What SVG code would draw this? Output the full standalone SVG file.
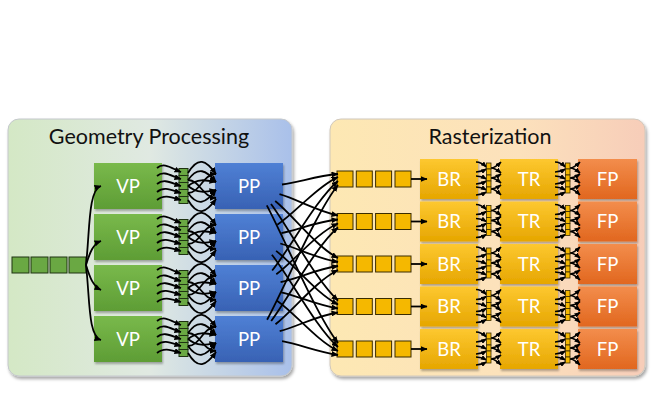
<svg xmlns="http://www.w3.org/2000/svg" xmlns:xlink="http://www.w3.org/1999/xlink" width="651" height="413" viewBox="0 0 651 413">
<defs>
<style>
.t{font-family:Lato,'Liberation Sans',sans-serif}
.title{font-size:21.5px;fill:#111}
.lbl{font-size:18.5px;fill:#fff}
.c{fill:none;stroke:#000;stroke-width:1.8;marker-end:url(#ah)}
.cm{fill:none;stroke:#000;stroke-width:1.7;marker-end:url(#ahs)}
.qg{fill:#6aa843;stroke:#1f3312;stroke-width:1}
.qy{fill:#f5b800;stroke:#3a2c00;stroke-width:1}
.qys{fill:#f5b800;stroke:#3a2c00;stroke-width:0.8}
</style>
<linearGradient id="gL" x1="0" y1="0" x2="1" y2="0">
<stop offset="0" stop-color="#d4e8c5"/><stop offset="0.5" stop-color="#e0e9e2"/><stop offset="1" stop-color="#a9c0ea"/>
</linearGradient>
<linearGradient id="gR" x1="0" y1="0" x2="1" y2="0">
<stop offset="0" stop-color="#fde8b3"/><stop offset="0.6" stop-color="#fce1bc"/><stop offset="1" stop-color="#f7cdb9"/>
</linearGradient>
<linearGradient id="gVP" x1="0" y1="0" x2="0" y2="1"><stop offset="0" stop-color="#79b94b"/><stop offset="1" stop-color="#5e9d35"/></linearGradient>
<linearGradient id="gPP" x1="0" y1="0" x2="0" y2="1"><stop offset="0" stop-color="#4f80d5"/><stop offset="1" stop-color="#3862b4"/></linearGradient>
<linearGradient id="gBR" x1="0" y1="0" x2="0" y2="1"><stop offset="0" stop-color="#fdc830"/><stop offset="1" stop-color="#e6a600"/></linearGradient>
<linearGradient id="gFP" x1="0" y1="0" x2="0" y2="1"><stop offset="0" stop-color="#f38d4c"/><stop offset="1" stop-color="#e1671f"/></linearGradient>
<filter id="sh" x="-10%" y="-10%" width="120%" height="125%"><feDropShadow dx="1.5" dy="2.5" stdDeviation="1.8" flood-color="#000" flood-opacity="0.35"/></filter>
<filter id="shb" x="-10%" y="-10%" width="125%" height="130%"><feDropShadow dx="1" dy="2" stdDeviation="1.2" flood-color="#000" flood-opacity="0.3"/></filter>
<marker id="ah" markerWidth="7" markerHeight="6" refX="6.5" refY="3" orient="auto" markerUnits="userSpaceOnUse"><path d="M0,0 L7,3 L0,6 z" fill="#000"/></marker>
<marker id="ahs" markerWidth="6" markerHeight="5" refX="5.5" refY="2.5" orient="auto" markerUnits="userSpaceOnUse"><path d="M0,0 L6,2.5 L0,5 z" fill="#000"/></marker>
<g id="vpq">
<rect class="qg" x="179" y="-17.5" width="9" height="7"/><rect class="qg" x="179" y="-10.5" width="9" height="7"/><rect class="qg" x="179" y="-3.5" width="9" height="7"/><rect class="qg" x="179" y="3.5" width="9" height="7"/><rect class="qg" x="179" y="10.5" width="9" height="7"/>
</g>
<g id="vpc">
<path class="c" d="M157 -18 C164 -24 171 -18 181 -14"/>
<path class="c" d="M157 -10 C164 -16 171 -10 181 -7"/>
<path class="c" d="M157 -2 C164 -8 171 -3 181 0"/>
<path class="c" d="M157 6 C164 0 171 4 181 7"/>
<path class="c" d="M157 14 C164 8 171 11 181 14"/>
<path class="c" d="M188 -13 C198 -30 206 -26 216 -12"/>
<path class="c" d="M188 14 C198 31 206 27 216 13"/>
<path class="c" d="M188 -6 C198 -20 206 -16 216 -4"/>
<path class="c" d="M188 7 C198 21 206 17 216 4"/>
<path class="c" d="M188 -6 C200 -6 203 12 216 12"/>
<path class="c" d="M188 7 C200 7 203 -12 216 -12"/>
<path class="c" d="M188 0 C198 -8 206 -6 216 -4"/>
<path class="c" d="M188 0 C198 8 206 6 216 4"/>
</g>
<g id="mq">
<rect class="qys" x="486.5" y="-16" width="4.5" height="6"/><rect class="qys" x="486.5" y="-10" width="4.5" height="6"/><rect class="qys" x="486.5" y="-4" width="4.5" height="6"/><rect class="qys" x="486.5" y="2" width="4.5" height="6"/><rect class="qys" x="486.5" y="8" width="4.5" height="6"/>
</g>
<g id="mc">
<path class="cm" d="M476 -17 Q481 -17 486.5 -12"/>
<path class="cm" d="M476 -7 Q481 -7 486.5 -10"/>
<path class="cm" d="M476 -3 Q481 -3 486.5 0"/>
<path class="cm" d="M476 5 Q481 5 486.5 2"/>
<path class="cm" d="M476 8 Q481 8 486.5 11"/>
<path class="cm" d="M476 16 Q481 16 486.5 13"/>
<path class="cm" d="M491 -11 Q495 -11 501 -17"/>
<path class="cm" d="M491 -11 Q495 -11 501 -6"/>
<path class="cm" d="M491 -1 Q495 -1 501 -5"/>
<path class="cm" d="M491 -1 Q495 -1 501 4"/>
<path class="cm" d="M491 10 Q495 10 501 6"/>
<path class="cm" d="M491 10 Q495 10 501 16"/>
</g>
</defs>
<rect width="651" height="413" fill="#fff"/>

<g id="panel-geometry">
<rect x="8" y="119" width="284" height="257" rx="11" fill="url(#gL)" stroke="#c4c8cc" stroke-width="1" filter="url(#sh)"/>
<text class="t title" x="149" y="144" text-anchor="middle">Geometry Processing</text>
</g>
<g id="panel-raster">
<rect x="330" y="119" width="315" height="257" rx="11" fill="url(#gR)" stroke="#d0c8bc" stroke-width="1" filter="url(#sh)"/>
<text class="t title" x="490" y="144" text-anchor="middle">Rasterization</text>
</g>

<g id="input-queue">
<rect class="qg" x="12" y="257" width="17" height="16"/><rect class="qg" x="31" y="257" width="17" height="16"/><rect class="qg" x="50" y="257" width="17" height="16"/><rect class="qg" x="69" y="257" width="17" height="16"/>
</g>

<g id="vp1"><rect x="94" y="163" width="68" height="46" fill="url(#gVP)" filter="url(#shb)"/><text class="t lbl" x="128" y="192.5" text-anchor="middle">VP</text></g>
<g id="vp2"><rect x="94" y="214" width="68" height="46" fill="url(#gVP)" filter="url(#shb)"/><text class="t lbl" x="128" y="243.5" text-anchor="middle">VP</text></g>
<g id="vp3"><rect x="94" y="265" width="68" height="46" fill="url(#gVP)" filter="url(#shb)"/><text class="t lbl" x="128" y="294.5" text-anchor="middle">VP</text></g>
<g id="vp4"><rect x="94" y="316" width="68" height="46" fill="url(#gVP)" filter="url(#shb)"/><text class="t lbl" x="128" y="345.5" text-anchor="middle">VP</text></g>

<g id="pp1"><rect x="215" y="163" width="68" height="46" fill="url(#gPP)" filter="url(#shb)"/><text class="t lbl" x="249" y="192.5" text-anchor="middle">PP</text></g>
<g id="pp2"><rect x="215" y="214" width="68" height="46" fill="url(#gPP)" filter="url(#shb)"/><text class="t lbl" x="249" y="243.5" text-anchor="middle">PP</text></g>
<g id="pp3"><rect x="215" y="265" width="68" height="46" fill="url(#gPP)" filter="url(#shb)"/><text class="t lbl" x="249" y="294.5" text-anchor="middle">PP</text></g>
<g id="pp4"><rect x="215" y="316" width="68" height="46" fill="url(#gPP)" filter="url(#shb)"/><text class="t lbl" x="249" y="345.5" text-anchor="middle">PP</text></g>

<g id="vp-queues">
<use xlink:href="#vpq" href="#vpq" transform="translate(0,186)"/>
<use xlink:href="#vpq" href="#vpq" transform="translate(0,237)"/>
<use xlink:href="#vpq" href="#vpq" transform="translate(0,288)"/>
<use xlink:href="#vpq" href="#vpq" transform="translate(0,339)"/>
</g>

<g id="raster-queues">
<g transform="translate(0,179)"><rect class="qy" x="337" y="-8" width="16" height="16"/><rect class="qy" x="356.3" y="-8" width="16" height="16"/><rect class="qy" x="375.6" y="-8" width="16" height="16"/><rect class="qy" x="395" y="-8" width="16" height="16"/></g>
<g transform="translate(0,221.5)"><rect class="qy" x="337" y="-8" width="16" height="16"/><rect class="qy" x="356.3" y="-8" width="16" height="16"/><rect class="qy" x="375.6" y="-8" width="16" height="16"/><rect class="qy" x="395" y="-8" width="16" height="16"/></g>
<g transform="translate(0,264)"><rect class="qy" x="337" y="-8" width="16" height="16"/><rect class="qy" x="356.3" y="-8" width="16" height="16"/><rect class="qy" x="375.6" y="-8" width="16" height="16"/><rect class="qy" x="395" y="-8" width="16" height="16"/></g>
<g transform="translate(0,306.5)"><rect class="qy" x="337" y="-8" width="16" height="16"/><rect class="qy" x="356.3" y="-8" width="16" height="16"/><rect class="qy" x="375.6" y="-8" width="16" height="16"/><rect class="qy" x="395" y="-8" width="16" height="16"/></g>
<g transform="translate(0,349)"><rect class="qy" x="337" y="-8" width="16" height="16"/><rect class="qy" x="356.3" y="-8" width="16" height="16"/><rect class="qy" x="375.6" y="-8" width="16" height="16"/><rect class="qy" x="395" y="-8" width="16" height="16"/></g>
</g>

<g id="br1"><rect x="420" y="159" width="58" height="40" fill="url(#gBR)" filter="url(#shb)"/><text class="t lbl" x="449" y="185.5" text-anchor="middle">BR</text></g>
<g id="br2"><rect x="420" y="201.5" width="58" height="40" fill="url(#gBR)" filter="url(#shb)"/><text class="t lbl" x="449" y="228" text-anchor="middle">BR</text></g>
<g id="br3"><rect x="420" y="244" width="58" height="40" fill="url(#gBR)" filter="url(#shb)"/><text class="t lbl" x="449" y="270.5" text-anchor="middle">BR</text></g>
<g id="br4"><rect x="420" y="286.5" width="58" height="40" fill="url(#gBR)" filter="url(#shb)"/><text class="t lbl" x="449" y="313" text-anchor="middle">BR</text></g>
<g id="br5"><rect x="420" y="329" width="58" height="40" fill="url(#gBR)" filter="url(#shb)"/><text class="t lbl" x="449" y="355.5" text-anchor="middle">BR</text></g>

<g id="tr1"><rect x="500" y="159" width="58" height="40" fill="url(#gBR)" filter="url(#shb)"/><text class="t lbl" x="529" y="185.5" text-anchor="middle">TR</text></g>
<g id="tr2"><rect x="500" y="201.5" width="58" height="40" fill="url(#gBR)" filter="url(#shb)"/><text class="t lbl" x="529" y="228" text-anchor="middle">TR</text></g>
<g id="tr3"><rect x="500" y="244" width="58" height="40" fill="url(#gBR)" filter="url(#shb)"/><text class="t lbl" x="529" y="270.5" text-anchor="middle">TR</text></g>
<g id="tr4"><rect x="500" y="286.5" width="58" height="40" fill="url(#gBR)" filter="url(#shb)"/><text class="t lbl" x="529" y="313" text-anchor="middle">TR</text></g>
<g id="tr5"><rect x="500" y="329" width="58" height="40" fill="url(#gBR)" filter="url(#shb)"/><text class="t lbl" x="529" y="355.5" text-anchor="middle">TR</text></g>

<g id="fp1"><rect x="578" y="159" width="59" height="40" fill="url(#gFP)" filter="url(#shb)"/><text class="t lbl" x="607.5" y="185.5" text-anchor="middle">FP</text></g>
<g id="fp2"><rect x="578" y="201.5" width="59" height="40" fill="url(#gFP)" filter="url(#shb)"/><text class="t lbl" x="607.5" y="228" text-anchor="middle">FP</text></g>
<g id="fp3"><rect x="578" y="244" width="59" height="40" fill="url(#gFP)" filter="url(#shb)"/><text class="t lbl" x="607.5" y="270.5" text-anchor="middle">FP</text></g>
<g id="fp4"><rect x="578" y="286.5" width="59" height="40" fill="url(#gFP)" filter="url(#shb)"/><text class="t lbl" x="607.5" y="313" text-anchor="middle">FP</text></g>
<g id="fp5"><rect x="578" y="329" width="59" height="40" fill="url(#gFP)" filter="url(#shb)"/><text class="t lbl" x="607.5" y="355.5" text-anchor="middle">FP</text></g>

<g id="connectors">
<path class="c" d="M86 265 C90 230 88 190 101 186"/>
<path class="c" d="M86 265 C90 252 93 244 101 241"/>
<path class="c" d="M86 265 C90 278 93 286 101 290"/>
<path class="c" d="M86 265 C90 300 88 336 101 340"/>
<use xlink:href="#vpc" href="#vpc" transform="translate(0,186)"/>
<use xlink:href="#vpc" href="#vpc" transform="translate(0,237)"/>
<use xlink:href="#vpc" href="#vpc" transform="translate(0,288)"/>
<use xlink:href="#vpc" href="#vpc" transform="translate(0,339)"/>
<path class="c" d="M282 184.5 C300 182 316 176 338 174"/>
<path class="c" d="M279.5 194.2 C297.5 199.4 316 210.8 338 215.5"/>
<path class="c" d="M275.2 201 C293 215.3 316 246.6 338 258"/>
<path class="c" d="M271 204 C289 228 316 280.8 338 300.5"/>
<path class="c" d="M266.8 205.3 C285 239.5 316 314.7 338 343"/>
<path class="c" d="M277.3 224.8 C295 213.1 316 187.4 338 177"/>
<path class="c" d="M281.4 233.1 C299 229.6 316 221.8 338 219.5"/>
<path class="c" d="M280.3 243.5 C298 248.1 316 258.3 338 262"/>
<path class="c" d="M276.1 250.9 C294 264.2 316 293.4 338 304.5"/>
<path class="c" d="M271.9 254.7 C290 277.5 316 327.7 338 347"/>
<path class="c" d="M272.2 270.5 C290 248.4 316 199.7 338 181"/>
<path class="c" d="M276.3 274.3 C294 261.5 316 233.3 338 223.5"/>
<path class="c" d="M280.6 282.2 C299 278.2 316 269.2 338 266"/>
<path class="c" d="M281.2 292.4 C299 296.3 316 304.9 338 308.5"/>
<path class="c" d="M277 300.7 C295 313 316 340.1 338 351"/>
<path class="c" d="M267.1 319.7 C285 286.3 316 212.7 338 185"/>
<path class="c" d="M271.2 321 C289 297.5 316 245.8 338 227.5"/>
<path class="c" d="M275.5 324.3 C293 310.7 316 280.9 338 270"/>
<path class="c" d="M279.7 331.2 C298 326.4 316 315.8 338 312.5"/>
<path class="c" d="M282.1 341.2 C300 344.4 316 351.4 338 355"/>
<path class="c" d="M411 179 L427 179"/>
<path class="c" d="M411 221.5 L427 221.5"/>
<path class="c" d="M411 264 L427 264"/>
<path class="c" d="M411 306.5 L427 306.5"/>
<path class="c" d="M411 349 L427 349"/>
<use xlink:href="#mc" href="#mc" transform="translate(0,179)"/>
<use xlink:href="#mc" href="#mc" transform="translate(0,221.5)"/>
<use xlink:href="#mc" href="#mc" transform="translate(0,264)"/>
<use xlink:href="#mc" href="#mc" transform="translate(0,306.5)"/>
<use xlink:href="#mc" href="#mc" transform="translate(0,349)"/>
<use xlink:href="#mc" href="#mc" transform="translate(79,179)"/>
<use xlink:href="#mc" href="#mc" transform="translate(79,221.5)"/>
<use xlink:href="#mc" href="#mc" transform="translate(79,264)"/>
<use xlink:href="#mc" href="#mc" transform="translate(79,306.5)"/>
<use xlink:href="#mc" href="#mc" transform="translate(79,349)"/>
</g>

<g id="mini-queues">
<use xlink:href="#mq" href="#mq" transform="translate(0,179)"/>
<use xlink:href="#mq" href="#mq" transform="translate(0,221.5)"/>
<use xlink:href="#mq" href="#mq" transform="translate(0,264)"/>
<use xlink:href="#mq" href="#mq" transform="translate(0,306.5)"/>
<use xlink:href="#mq" href="#mq" transform="translate(0,349)"/>
<use xlink:href="#mq" href="#mq" transform="translate(79,179)"/>
<use xlink:href="#mq" href="#mq" transform="translate(79,221.5)"/>
<use xlink:href="#mq" href="#mq" transform="translate(79,264)"/>
<use xlink:href="#mq" href="#mq" transform="translate(79,306.5)"/>
<use xlink:href="#mq" href="#mq" transform="translate(79,349)"/>
</g>
</svg>
